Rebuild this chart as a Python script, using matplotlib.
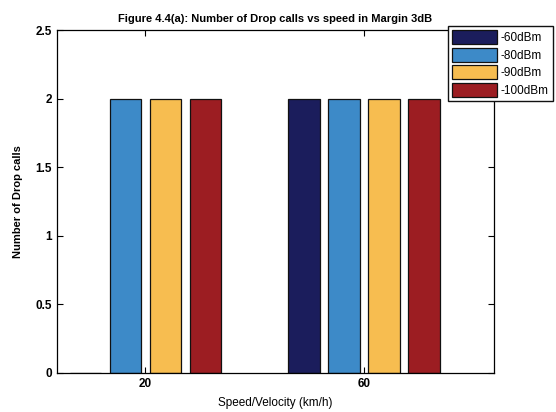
import matplotlib

matplotlib.use("Agg")
import matplotlib.pyplot as plt
import numpy as np

# speed categories (km/h)
speeds = ["20", "60"]
series_labels = ["-60dBm", "-80dBm", "-90dBm", "-100dBm"]
drop_60 = [0, 2]
drop_80 = [2, 2]
drop_90 = [2, 2]
drop_100 = [2, 2]
colors = ["#1b1d5c", "#3d8ac8", "#f7bd50", "#9c1d22"]

plt.rcParams["font.family"] = ["Liberation Sans", "DejaVu Sans"]
plt.rcParams["font.weight"] = "bold"

fig = plt.figure(figsize=(5.56, 4.12), dpi=100)
ax = fig.add_axes([0.1025, 0.0947, 0.7860, 0.8323])

x = np.arange(1, len(speeds) + 1)
step = 0.183
width = 0.146
series = [drop_60, drop_80, drop_90, drop_100]
for i, (vals, label, color) in enumerate(zip(series, series_labels, colors)):
    offset = (i - 1.5) * step
    ax.bar(x + offset, vals, width=width, color=color, edgecolor="#111111",
           linewidth=0.9, label=label)

ax.set_xlim(0.595, 2.595)
ax.set_ylim(0, 2.5)
ax.set_xticks(x)
ax.set_xticklabels(speeds)
ax.set_yticks(np.arange(0, 2.51, 0.5))
ax.set_yticklabels(["0", "0.5", "1", "1.5", "2", "2.5"])
ax.tick_params(direction="in", top=True, right=True, labelsize=8.5, length=4)
for spine in ax.spines.values():
    spine.set_linewidth(0.9)

ax.set_title("Figure 4.4(a): Number of Drop calls vs speed in Margin 3dB",
             fontsize=8, pad=6, fontweight="semibold")
ax.set_xlabel("Speed/Velocity (km/h)", fontsize=8.5, labelpad=5)
ax.set_ylabel("Number of Drop calls", fontsize=8, labelpad=9,
              fontweight="semibold")

fig.legend(loc="upper right", bbox_to_anchor=(553 / 556, 1 - 26 / 412),
           prop={"size": 8.5, "weight": "normal"}, handlelength=3.8,
           handleheight=1.45, handletextpad=0.3,
           labelspacing=0.3, borderpad=0.35, borderaxespad=0.0,
           frameon=True, fancybox=False, edgecolor="#111111", framealpha=1)

fig.savefig("out.png", dpi=100)
